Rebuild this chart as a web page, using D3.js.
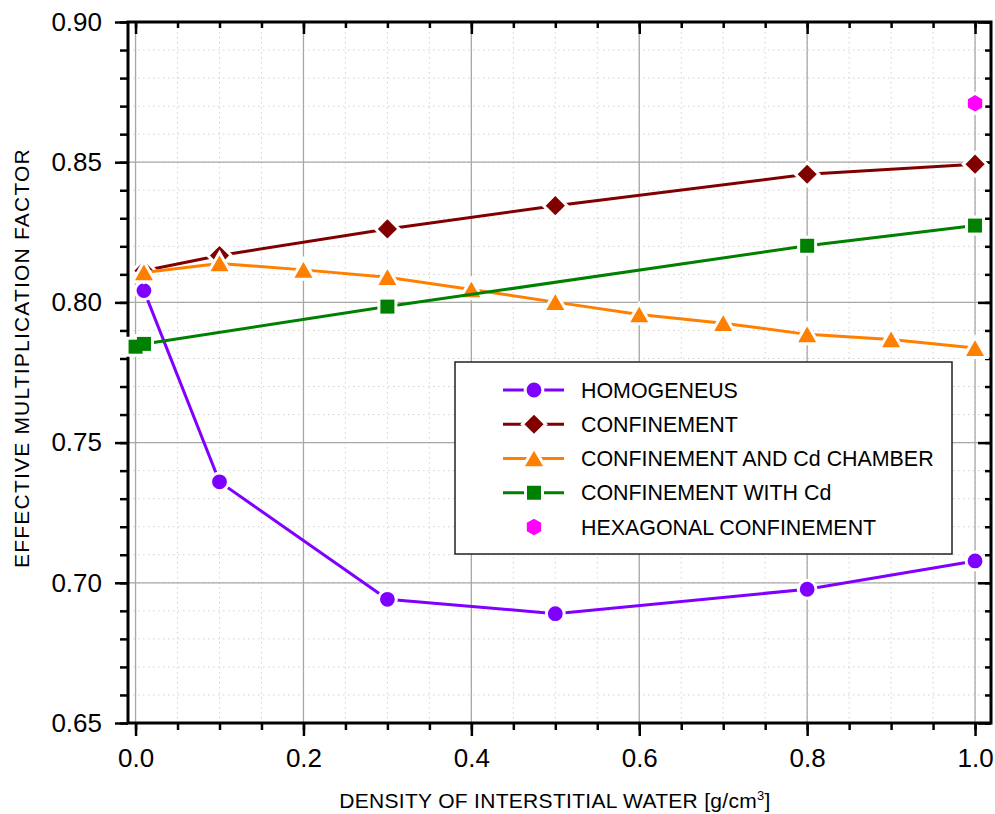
<!DOCTYPE html>
<html>
<head>
<meta charset="utf-8">
<script src="https://cdn.jsdelivr.net/npm/d3@7"></script>
<style>
  body { margin: 0; background: #fff; }
  text { font-family: "Liberation Sans", Arial, sans-serif; }
</style>
</head>
<body>
<div id="chart"></div>
<script>
// values
const homoX = [0.01, 0.1, 0.3, 0.5, 0.8, 1.0];
const homoY = [0.8042, 0.7360, 0.6941, 0.6890, 0.6977, 0.7078];

const confX = [0.01, 0.1, 0.3, 0.5, 0.8, 1.0];
const confY = [0.8113, 0.8167, 0.8262, 0.8345, 0.8457, 0.8493];

const chamberX = [0.01, 0.1, 0.2, 0.3, 0.4, 0.5, 0.6, 0.7, 0.8, 0.9, 1.0];
const chamberY = [0.8107, 0.8139, 0.8116, 0.8090, 0.8046, 0.8001, 0.7957, 0.7926, 0.7886, 0.7868, 0.7837];

const withCdX = [0.0, 0.01, 0.3, 0.8, 1.0];
const withCdY = [0.7842, 0.7852, 0.7985, 0.8202, 0.8274];

const hexX = [1.0];
const hexY = [0.871];

const xTicks = [0.0, 0.2, 0.4, 0.6, 0.8, 1.0];
const yTicks = [0.65, 0.70, 0.75, 0.80, 0.85, 0.90];

const seriesNames = ["HOMOGENEUS", "CONFINEMENT", "CONFINEMENT AND Cd CHAMBER", "CONFINEMENT WITH Cd", "HEXAGONAL CONFINEMENT"];
const seriesColors = ["#8000ff", "#800000", "#ff8000", "#008000", "#ff00ff"];
const seriesShapes = ["circle", "diamond", "triangle", "square", "hexagon"];

const width = 995, height = 814;
const frame = { left: 128, right: 991, top: 22, bottom: 723 };

const svg = d3.select("#chart").append("svg")
    .attr("width", width)
    .attr("height", height);

const xScale = d3.scaleLinear().domain([-0.009, 1.019]).range([frame.left, frame.right]);
const yScale = d3.scaleLinear().domain([0.65, 0.90]).range([frame.bottom, frame.top]);

const xMinor = d3.range(0, 1.0001, 0.05);
const yMinor = d3.range(0.65, 0.9001, 0.01);

// minor grid (dotted)
svg.append("g").selectAll("line").data(xMinor).join("line")
    .attr("x1", d => xScale(d)).attr("x2", d => xScale(d))
    .attr("y1", frame.top).attr("y2", frame.bottom)
    .attr("stroke", "#d2d2d2").attr("stroke-dasharray", "1.5,3.5");
svg.append("g").selectAll("line").data(yMinor).join("line")
    .attr("y1", d => yScale(d)).attr("y2", d => yScale(d))
    .attr("x1", frame.left).attr("x2", frame.right)
    .attr("stroke", "#d2d2d2").attr("stroke-dasharray", "1.5,3.5");

// major grid
svg.append("g").selectAll("line").data(xTicks).join("line")
    .attr("x1", d => xScale(d)).attr("x2", d => xScale(d))
    .attr("y1", frame.top).attr("y2", frame.bottom)
    .attr("stroke", "#a8a8a8").attr("stroke-width", 1.3);
svg.append("g").selectAll("line").data(yTicks).join("line")
    .attr("y1", d => yScale(d)).attr("y2", d => yScale(d))
    .attr("x1", frame.left).attr("x2", frame.right)
    .attr("stroke", "#a8a8a8").attr("stroke-width", 1.3);

// axes
const tickFont = "26px";
svg.append("g")
    .attr("transform", `translate(0,${frame.bottom})`)
    .call(d3.axisBottom(xScale).tickValues(xTicks).tickFormat(d3.format(".1f")).tickSize(13).tickPadding(13));
svg.append("g")
    .attr("transform", `translate(0,${frame.bottom})`)
    .call(d3.axisBottom(xScale).tickValues(xMinor).tickFormat("").tickSize(7));
svg.append("g")
    .attr("transform", `translate(${frame.left},0)`)
    .call(d3.axisLeft(yScale).tickValues(yTicks).tickFormat(d3.format(".2f")).tickSize(13).tickPadding(13));
svg.append("g")
    .attr("transform", `translate(${frame.left},0)`)
    .call(d3.axisLeft(yScale).tickValues(yMinor).tickFormat("").tickSize(8));
svg.append("g")
    .attr("transform", `translate(0,${frame.top})`)
    .call(d3.axisTop(xScale).tickValues(xTicks).tickFormat("").tickSize(-12));
svg.append("g")
    .attr("transform", `translate(0,${frame.top})`)
    .call(d3.axisTop(xScale).tickValues(xMinor).tickFormat("").tickSize(-6));
svg.append("g")
    .attr("transform", `translate(${frame.right},0)`)
    .call(d3.axisRight(yScale).tickValues(yTicks).tickFormat("").tickSize(-13));
svg.append("g")
    .attr("transform", `translate(${frame.right},0)`)
    .call(d3.axisRight(yScale).tickValues(yMinor).tickFormat("").tickSize(-6));

svg.selectAll(".domain").remove();
svg.selectAll(".tick line").attr("stroke", "#000").attr("stroke-width", 2.5);
svg.selectAll(".tick text").attr("fill", "#000").style("font-size", tickFont)
    .style("font-family", "'Liberation Sans', Arial, sans-serif");

// frame
svg.append("rect")
    .attr("x", frame.left).attr("y", frame.top)
    .attr("width", frame.right - frame.left).attr("height", frame.bottom - frame.top)
    .attr("fill", "none").attr("stroke", "#000").attr("stroke-width", 3);

// marker shapes, centred on the point
function markerPath(shape) {
    if (shape === "circle") return d3.symbol(d3.symbolCircle, Math.PI * 7.4 * 7.4)();
    if (shape === "diamond") return "M0,-9.6L9.6,0L0,9.6L-9.6,0Z";
    if (shape === "triangle") return "M0,-7.8L9,7.8L-9,7.8Z";
    if (shape === "square") return "M-7,-7H7V7H-7Z";
    const r = 8.3;
    return d3.range(6).map(i => {
        const a = Math.PI / 3 * i - Math.PI / 2;
        return (i ? "L" : "M") + (r * Math.cos(a)).toFixed(2) + "," + (r * Math.sin(a)).toFixed(2);
    }).join("") + "Z";
}

const series = [
    { xs: homoX, ys: homoY, line: true },
    { xs: confX, ys: confY, line: true },
    { xs: chamberX, ys: chamberY, line: true },
    { xs: withCdX, ys: withCdY, line: true },
    { xs: hexX, ys: hexY, line: false }
];

const line = d3.line().x(d => xScale(d[0])).y(d => yScale(d[1]));

series.forEach((s, i) => {
    const pts = s.xs.map((x, j) => [x, s.ys[j]]);
    const g = svg.append("g");
    if (s.line) {
        g.append("path")
            .attr("d", line(pts))
            .attr("fill", "none")
            .attr("stroke", seriesColors[i])
            .attr("stroke-width", 3);
    }
    // white gap round each symbol, cut out of the line
    g.selectAll("path.halo").data(pts).join("path")
        .attr("class", "halo")
        .attr("transform", d => `translate(${xScale(d[0])},${yScale(d[1])})`)
        .attr("d", markerPath(seriesShapes[i]))
        .attr("fill", "#fff")
        .attr("stroke", "#fff")
        .attr("stroke-width", 6);
    g.selectAll("path.mk").data(pts).join("path")
        .attr("class", "mk")
        .attr("transform", d => `translate(${xScale(d[0])},${yScale(d[1])})`)
        .attr("d", markerPath(seriesShapes[i]))
        .attr("fill", seriesColors[i]);
});

// axis titles
const xTitle = svg.append("text")
    .attr("x", 555).attr("y", 808)
    .attr("text-anchor", "middle")
    .style("font-size", "21px")
    .style("letter-spacing", "0.3px");
xTitle.append("tspan").text("DENSITY OF INTERSTITIAL WATER [g/cm");
xTitle.append("tspan").text("3").attr("dy", -8).style("font-size", "13px");
xTitle.append("tspan").text("]").attr("dy", 8);

svg.append("text")
    .attr("transform", "rotate(-90)")
    .attr("x", -358).attr("y", 29)
    .attr("text-anchor", "middle")
    .style("font-size", "21px")
    .style("letter-spacing", "1.2px")
    .text("EFFECTIVE MULTIPLICATION FACTOR");

// legend
const legend = svg.append("g");
legend.append("rect")
    .attr("x", 455).attr("y", 362)
    .attr("width", 497).attr("height", 192)
    .attr("fill", "#fff").attr("stroke", "#222").attr("stroke-width", 1.5);

const rowY = d3.scalePoint().domain(d3.range(seriesNames.length)).range([390, 527]);

seriesNames.forEach((name, i) => {
    const y = rowY(i);
    if (series[i].line) {
        legend.append("line")
            .attr("x1", 503).attr("x2", 564).attr("y1", y).attr("y2", y)
            .attr("stroke", seriesColors[i]).attr("stroke-width", 3);
    }
    legend.append("path")
        .attr("transform", `translate(534,${y})`)
        .attr("d", markerPath(seriesShapes[i]))
        .attr("fill", seriesColors[i])
        .attr("stroke", "#fff").attr("stroke-width", 6)
        .attr("paint-order", "stroke");
    legend.append("text")
        .attr("x", 581).attr("y", y)
        .attr("dy", "0.36em")
        .style("font-size", "21.4px")
        .text(name);
});
</script>
</body>
</html>
